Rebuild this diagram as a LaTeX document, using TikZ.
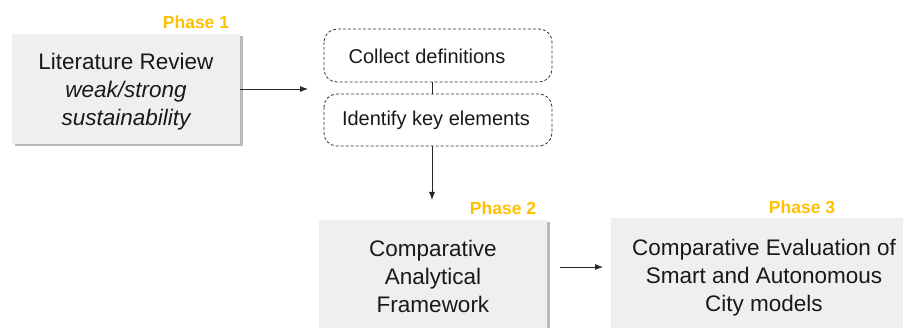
\documentclass[tikz,border=0pt]{standalone}
\usepackage{fontspec}
\setmainfont{Liberation Sans}
\usetikzlibrary{shadows,arrows.meta}
\definecolor{boxgray}{HTML}{EFEFEF}
\definecolor{phase}{HTML}{FFC000}
\tikzset{
  phasebox/.style={fill=boxgray, draw=none, drop shadow={shadow xshift=2.5pt, shadow yshift=-2.5pt, fill=black!45, opacity=0.6}},
  maintext/.style={font=\fontsize{22.5}{28}\selectfont, align=center, text=black!90},
  dashbox/.style={draw=black!80, dashed, rounded corners=13pt, line width=0.8pt, dash pattern=on 3pt off 2pt},
  subtext/.style={font=\fontsize{20}{22}\selectfont, text=black!90},
  phaselabel/.style={font=\fontsize{17.5}{18}\selectfont\bfseries, text=phase},
  conn/.style={-{Latex[length=8pt,width=6pt]}, line width=0.8pt, black!85}
}
\begin{document}
\begin{tikzpicture}[x=1pt,y=-1pt]
\useasboundingbox (0,0) rectangle (903,328);
% Phase 1
\path[phasebox] (12,34) rectangle (240,144);
\node[maintext] (t1) at (126,92) {Literature Review\\\itshape weak/strong\\\itshape sustainability};
\node[phaselabel] (p1) at (196,22) {Phase 1};
\coordinate (b1e) at (240,89);
% dashed boxes
\draw[dashbox] (324,29) rectangle (552,82);
\node[subtext] (c1) at (427,56) {Collect definitions};
\draw[dashbox] (324,94) rectangle (552,146);
\node[subtext] (c2) at (436,120) {Identify key elements};
\coordinate (c1b) at (432,82);
\coordinate (c2t) at (432,94);
\coordinate (c2b) at (432,146);
\coordinate (a1e) at (308,89);
\draw[conn] (b1e) -- (a1e);
\draw[line width=0.8pt, black!85] (c1b) -- (c2t);
\coordinate (a2e) at (432,200);
\draw[conn] (c2b) -- (a2e);
% Phase 2
\path[phasebox] (319,220) rectangle (547,340);
\node[maintext] (t2) at (433,276) {Comparative\\Analytical\\Framework};
\node[phaselabel] (p2) at (503,208) {Phase 2};
% Phase 3
\path[phasebox] (611,218) rectangle (920,340);
\node[maintext] (t3) at (764,278) {Comparative Evaluation of\\Smart and Autonomous\\City models};
\node[phaselabel] (p3) at (802,207) {Phase 3};
\coordinate (a3s) at (560,267);
\coordinate (a3e) at (603,267);
\draw[conn] (a3s) -- (a3e);
\end{tikzpicture}
\end{document}
